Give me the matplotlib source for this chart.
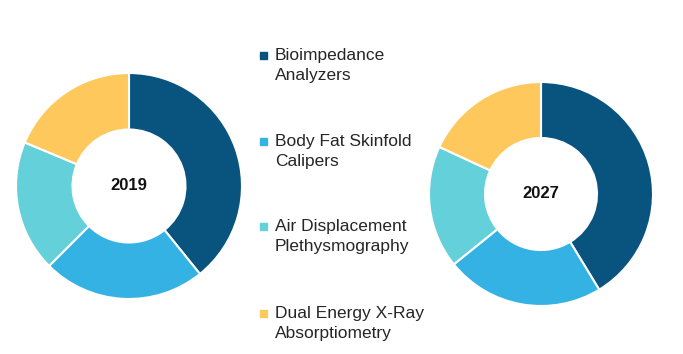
import matplotlib.pyplot as plt

categories = ['Bioimpedance\nAnalyzers', 'Body Fat Skinfold\nCalipers',
              'Air Displacement\nPlethysmography', 'Dual Energy X-Ray\nAbsorptiometry']
share_2019 = [39.2, 23.3, 18.8, 18.7]
share_2027 = [41.3, 22.9, 17.7, 18.1]
years = ['2019', '2027']
colors = ['#08547f', '#35b2e4', '#64d0d9', '#fec85c']

plt.rcParams['font.family'] = ['Liberation Sans', 'DejaVu Sans']

W, H = 683, 354
fig = plt.figure(figsize=(W / 100, H / 100), dpi=100)


def donut(cx, cy, r, values, label):
    # axes placed in pixel coords, pie fills it
    ax = fig.add_axes([(cx - r) / W, (H - cy - r) / H, 2 * r / W, 2 * r / H])
    ax.pie(values, colors=colors, startangle=90, counterclock=False, radius=1,
           wedgeprops=dict(width=0.5, edgecolor='white', linewidth=1.5))
    ax.set_xlim(-1, 1)
    ax.set_ylim(-1, 1)
    ax.set_aspect('equal')
    ax.axis('off')
    ax.text(0, 0, label, ha='center', va='center', fontsize=12,
            fontweight='bold', fontstretch='normal', color='#111111')


donut(129, 186, 113, share_2019, years[0])
donut(541, 194, 112, share_2027, years[1])

# legend drawn by hand in figure pixel coords
ys = [55, 141, 226, 313]
for cat, col, y in zip(categories, colors, ys):
    fig.patches.append(plt.Rectangle((260 / W, (H - y - 4) / H), 7 / W, 7 / H,
                                     transform=fig.transFigure, color=col))
    fig.text(275 / W, (H - y + 7) / H, cat, ha='left', va='top', fontsize=12.5,
             linespacing=1.42, color='#262626')

fig.savefig('out.png', dpi=100)
